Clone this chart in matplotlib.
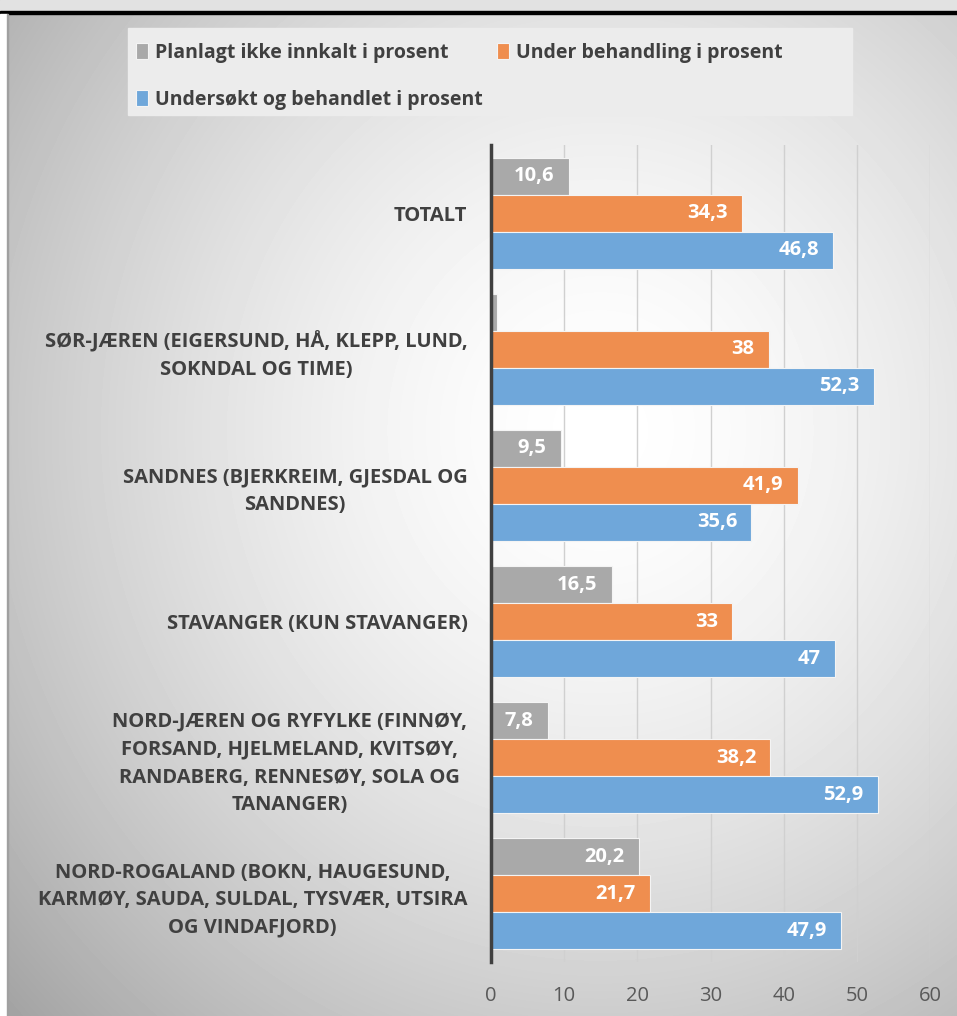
import numpy as np
import matplotlib.pyplot as plt
from matplotlib.patches import Rectangle

categories = [
    "TOTALT",
    "SØR-JÆREN (EIGERSUND, HÅ, KLEPP, LUND,\nSOKNDAL OG TIME)",
    "SANDNES (BJERKREIM, GJESDAL OG\nSANDNES)",
    "STAVANGER (KUN STAVANGER)",
    "NORD-JÆREN OG RYFYLKE (FINNØY,\nFORSAND, HJELMELAND, KVITSØY,\nRANDABERG, RENNESØY, SOLA OG\nTANANGER)",
    "NORD-ROGALAND (BOKN, HAUGESUND,\nKARMØY, SAUDA, SULDAL, TYSVÆR, UTSIRA\nOG VINDAFJORD)",
]
planlagt = [10.6, 0.8, 9.5, 16.5, 7.8, 20.2]
under_behandling = [34.3, 38, 41.9, 33, 38.2, 21.7]
undersokt = [46.8, 52.3, 35.6, 47, 52.9, 47.9]

series_names = ["Planlagt ikke innkalt i prosent",
                "Under behandling i prosent",
                "Undersøkt og behandlet i prosent"]
xticks = [0, 10, 20, 30, 40, 50, 60]

W, H = 957, 1016
fig = plt.figure(figsize=(W / 100, H / 100), dpi=100)
plt.rcParams['font.family'] = ['Open Sans', 'DejaVu Sans']

# background: radial grey gradient, top strip, black rule, left white strip
bg = fig.add_axes([0, 0, 1, 1], zorder=-5)
yy, xx = np.mgrid[0:H, 0:W]
r = np.sqrt(((xx - 600) / W) ** 2 + ((yy - 430) / H) ** 2) / 0.75
shade = np.clip(1.0 - 0.30 * r ** 1.6, 0, 1)
bg.imshow(shade, cmap="gray", vmin=0, vmax=1, extent=[0, W, H, 0], aspect="auto")
bg.add_patch(Rectangle((0, 0), W, 11, color="#e2e2e2"))
bg.add_patch(Rectangle((0, 11), W, 2.5, color="black"))
bg.add_patch(Rectangle((0, 13.5), 7, H, color="white"))
bg.add_patch(Rectangle((7, 13.5), 1.2, H, color="#a0a0a0"))
bg.set_xlim(0, W)
bg.set_ylim(H, 0)
bg.axis("off")

# legend box
fig.patches.append(Rectangle((128 / W, 1 - 115 / H), 724 / W, 87 / H,
                             transform=fig.transFigure, color="#ececec", zorder=0))

ax = fig.add_axes([491 / W, 1 - 962 / H, 439 / W, 817 / H])
ax.set_facecolor("none")

y = np.arange(len(categories))
h = 0.272
colors = ["#a9a9a9", "#ef8e4f", "#6fa7da"]
bars = []
for i, (vals, c) in enumerate(zip([planlagt, under_behandling, undersokt], colors)):
    b = ax.barh(y + (i - 1) * h, vals, height=h, color=c, edgecolor="#f4f4f4",
                linewidth=0.8, zorder=3, label=series_names[i])
    bars.append(b)
    for rect, v in zip(b, vals):
        if v < 3:
            continue
        txt = f"{v:g}".replace(".", ",")
        ax.text(v - 1.95, rect.get_y() + rect.get_height() / 2, txt,
                ha="right", va="center", color="white", fontsize=14.5,
                fontweight="bold", zorder=4)

ax.set_ylim(len(categories) - 0.5, -0.5)
ax.set_xlim(0, 60)
ax.set_xticks(xticks)
ax.set_yticks(y)
ax.set_yticklabels(categories, fontsize=14.5, fontweight="bold", color="#404040",
                   linespacing=1.5)
for lbl in ax.get_yticklabels():
    lbl.set_multialignment("center")
ax.tick_params(axis="y", length=0, pad=17)
ax.tick_params(axis="x", length=0, pad=17, labelsize=14.5, labelcolor="#595959")
ax.grid(axis="x", color="#d0d0d0", linewidth=1, zorder=0)
for s in ["top", "right", "bottom"]:
    ax.spines[s].set_visible(False)
ax.spines["left"].set_color("#404040")
ax.spines["left"].set_linewidth(2.5)
ax.spines["left"].set_zorder(5)

handles = [bars[0], bars[2], bars[1]]
labels = [series_names[0], series_names[2], series_names[1]]
leg = fig.legend(handles, labels, loc="upper left",
                 bbox_to_anchor=(128 / W, 1 - 35 / H), ncol=2, frameon=False,
                 prop={"size": 14, "weight": "bold"}, labelcolor="#404040",
                 handlelength=0.65, handleheight=0.9, handletextpad=0.35,
                 columnspacing=0.7, labelspacing=1.4, borderaxespad=0)

fig.savefig("out.png", dpi=100)
